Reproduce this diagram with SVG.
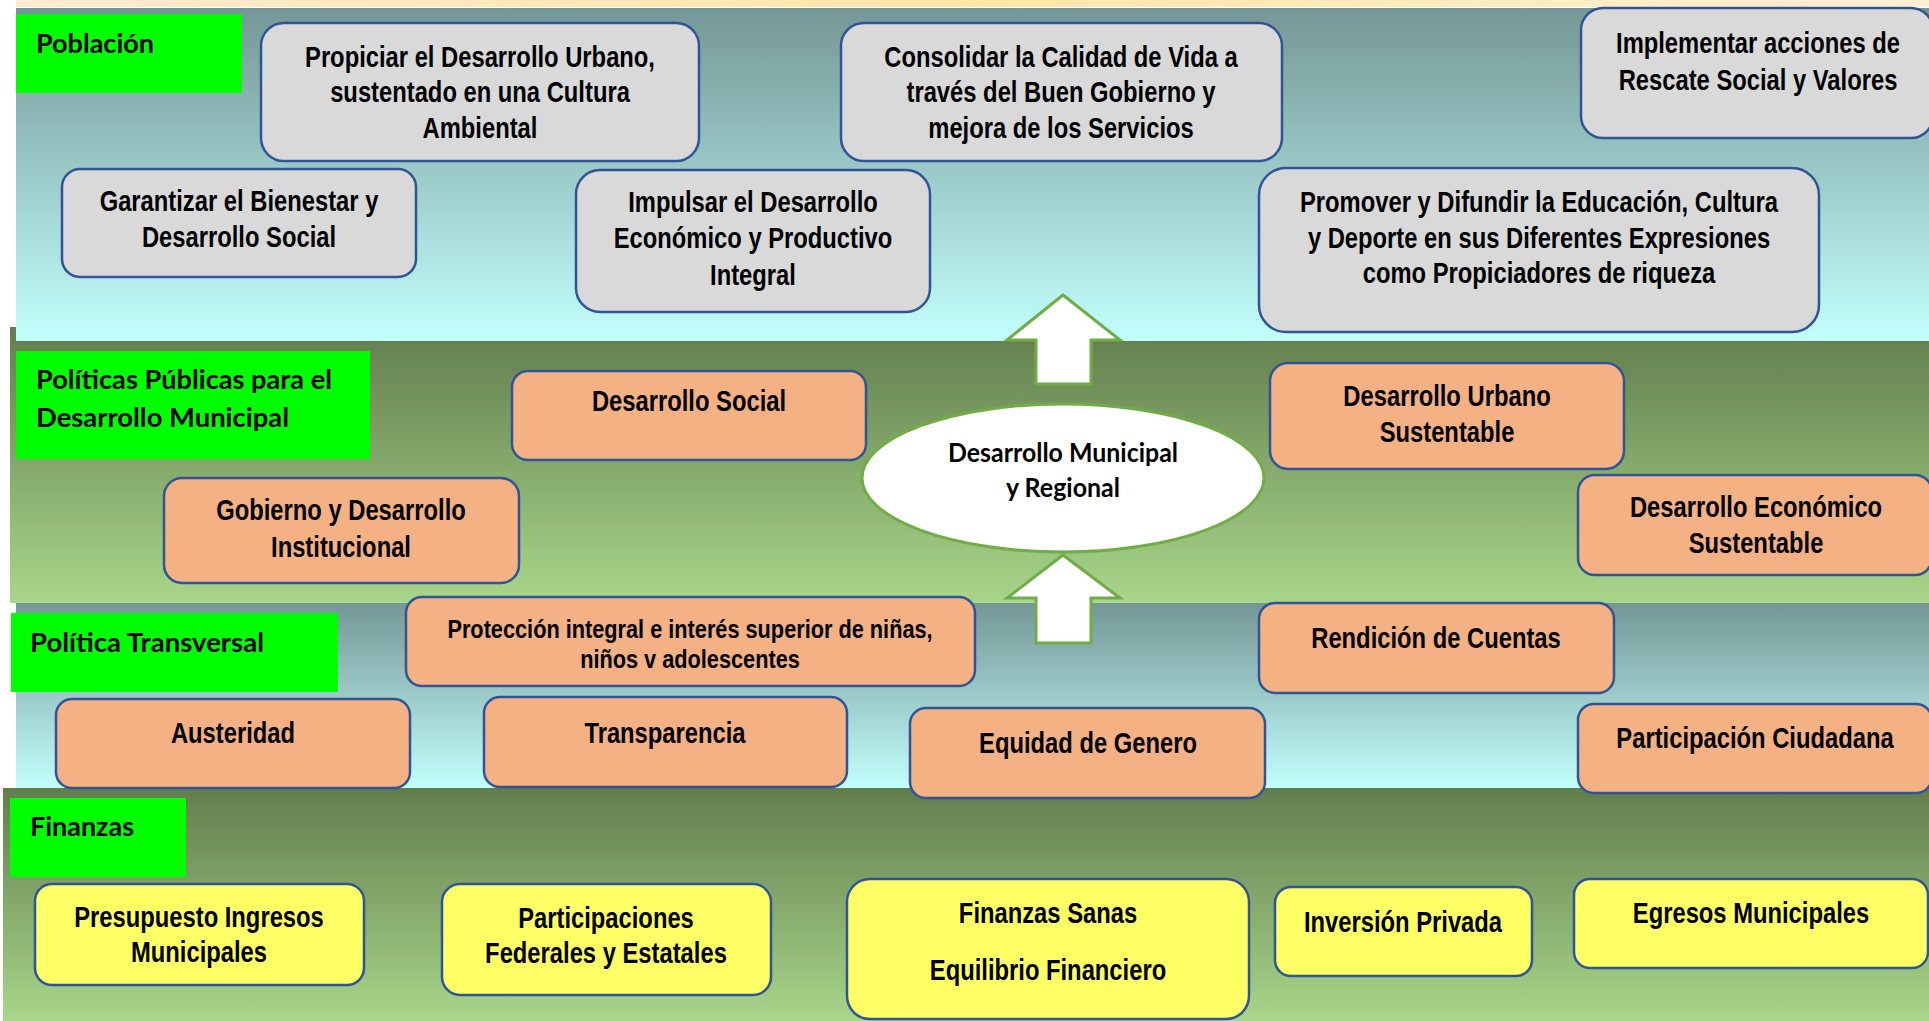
<svg xmlns="http://www.w3.org/2000/svg" width="1929" height="1021" viewBox="0 0 1929 1021">
<defs>
<linearGradient id="gStrip" x1="0" y1="0" x2="1" y2="0"><stop offset="0" stop-color="#fdead0"/><stop offset="0.5" stop-color="#ffe6a8"/><stop offset="1" stop-color="#fff0d6"/></linearGradient>
<linearGradient id="gBlue" x1="0" y1="0" x2="0" y2="1"><stop offset="0" stop-color="#759696"/><stop offset="1" stop-color="#c2fffc"/></linearGradient>
<linearGradient id="gGreen" x1="0" y1="0" x2="0" y2="1"><stop offset="0" stop-color="#627d4d"/><stop offset="1" stop-color="#a8d68a"/></linearGradient>
<style>
.box{stroke:#2f5597;stroke-width:2.5}
.gray{fill:#d9d9d9}
.orange{fill:#f4b183}
.yellow{fill:#ffff66}
.lbl{fill:#00ff00}
.t{font-family:"Liberation Sans",Arial,sans-serif;font-weight:bold;font-size:29px;fill:#000;text-anchor:middle}
.s{font-size:26.5px}
.c{font-family:Lato,"Open Sans",sans-serif;font-weight:bold;font-size:26px;fill:#000}
.arrow{fill:#ffffff;stroke:#70ad47;stroke-width:3;stroke-linejoin:miter}
</style>
</defs>
<g id="background">
<rect x="16" y="0" width="1913" height="7" fill="url(#gStrip)"/>
<rect x="10" y="327" width="1919" height="276" fill="url(#gGreen)"/>
<rect x="16" y="8" width="1913" height="333" fill="url(#gBlue)"/>
<rect x="16" y="603" width="1913" height="185" fill="url(#gBlue)"/>
<rect x="3" y="788" width="1926" height="233" fill="url(#gGreen)"/>
</g>
<g id="labels">
<g id="lbl-poblacion"><rect class="lbl" x="16" y="14" width="226" height="79"/><text class="c" x="36" y="53" textLength="118" lengthAdjust="spacingAndGlyphs">Población</text></g>
<g id="lbl-politicas"><rect class="lbl" x="16" y="351" width="354" height="108"/><text class="c" x="36" y="389" textLength="296" lengthAdjust="spacingAndGlyphs">Políticas Públicas para el</text><text class="c" x="36" y="427" textLength="253" lengthAdjust="spacingAndGlyphs">Desarrollo Municipal</text></g>
<g id="lbl-transversal"><rect class="lbl" x="11" y="613" width="327" height="79"/><text class="c" x="30" y="652" textLength="234" lengthAdjust="spacingAndGlyphs">Política Transversal</text></g>
<g id="lbl-finanzas"><rect class="lbl" x="10" y="798" width="176" height="79"/><text class="c" x="30" y="836" textLength="104" lengthAdjust="spacingAndGlyphs">Finanzas</text></g>
</g>
<g id="connectors">
<path class="arrow" d="M1063,295 L1120,340 L1091,340 L1091,384 L1036,384 L1036,340 L1007,340 Z"/>
<path class="arrow" d="M1063,555 L1120,598 L1091,598 L1091,643 L1036,643 L1036,598 L1007,598 Z"/>
</g>
<g id="n-propiciar"><rect class="box gray" x="261" y="23" width="438" height="138" rx="23"/><g transform="translate(480 0) scale(0.82 1)"><text class="t" x="0" y="67">Propiciar el Desarrollo Urbano,</text><text class="t" x="0" y="102">sustentado en una Cultura</text><text class="t" x="0" y="138">Ambiental</text></g></g>
<g id="n-consolidar"><rect class="box gray" x="841" y="23" width="441" height="138" rx="23"/><g transform="translate(1061 0) scale(0.82 1)"><text class="t" x="0" y="67">Consolidar la Calidad de Vida a</text><text class="t" x="0" y="102">través del Buen Gobierno y</text><text class="t" x="0" y="138">mejora de los Servicios</text></g></g>
<g id="n-implementar"><rect class="box gray" x="1581" y="8" width="352" height="130" rx="22"/><g transform="translate(1758 0) scale(0.82 1)"><text class="t" x="0" y="53">Implementar acciones de</text><text class="t" x="0" y="90">Rescate Social y Valores</text></g></g>
<g id="n-garantizar"><rect class="box gray" x="62" y="169" width="354" height="108" rx="18"/><g transform="translate(239 0) scale(0.82 1)"><text class="t" x="0" y="211">Garantizar el Bienestar y</text><text class="t" x="0" y="247">Desarrollo Social</text></g></g>
<g id="n-impulsar"><rect class="box gray" x="576" y="170" width="354" height="142" rx="24"/><g transform="translate(753 0) scale(0.82 1)"><text class="t" x="0" y="212">Impulsar el Desarrollo</text><text class="t" x="0" y="248">Económico y Productivo</text><text class="t" x="0" y="285">Integral</text></g></g>
<g id="n-promover"><rect class="box gray" x="1259" y="168" width="560" height="164" rx="27"/><g transform="translate(1539 0) scale(0.82 1)"><text class="t" x="0" y="212">Promover y Difundir la Educación, Cultura</text><text class="t" x="0" y="248">y Deporte en sus Diferentes Expresiones</text><text class="t" x="0" y="283">como Propiciadores de riqueza</text></g></g>
<g id="n-social"><rect class="box orange" x="512" y="371" width="354" height="89" rx="16"/><g transform="translate(689 0) scale(0.82 1)"><text class="t" x="0" y="411">Desarrollo Social</text></g></g>
<g id="n-gobierno"><rect class="box orange" x="164" y="478" width="355" height="105" rx="18"/><g transform="translate(341 0) scale(0.82 1)"><text class="t" x="0" y="520">Gobierno y Desarrollo</text><text class="t" x="0" y="557">Institucional</text></g></g>
<g id="n-central"><ellipse cx="1063" cy="478" rx="201" ry="74" fill="#ffffff" stroke="#70ad47" stroke-width="3"/><text class="c" x="1063" y="462" text-anchor="middle" textLength="230" lengthAdjust="spacingAndGlyphs">Desarrollo Municipal</text><text class="c" x="1063" y="497" text-anchor="middle" textLength="114" lengthAdjust="spacingAndGlyphs">y Regional</text></g>
<g id="n-urbano"><rect class="box orange" x="1270" y="363" width="354" height="106" rx="18"/><g transform="translate(1447 0) scale(0.82 1)"><text class="t" x="0" y="406">Desarrollo Urbano</text><text class="t" x="0" y="442">Sustentable</text></g></g>
<g id="n-economico"><rect class="box orange" x="1578" y="475" width="354" height="100" rx="17"/><g transform="translate(1756 0) scale(0.82 1)"><text class="t" x="0" y="517">Desarrollo Económico</text><text class="t" x="0" y="553">Sustentable</text></g></g>
<g id="n-proteccion"><rect class="box orange" x="406" y="597" width="569" height="89" rx="16"/><g transform="translate(690 0) scale(0.82 1)"><text class="t s" x="0" y="638">Protección integral e interés superior de niñas,</text><text class="t s" x="0" y="668">niños v adolescentes</text></g></g>
<g id="n-rendicion"><rect class="box orange" x="1259" y="603" width="355" height="90" rx="16"/><g transform="translate(1436 0) scale(0.82 1)"><text class="t" x="0" y="648">Rendición de Cuentas</text></g></g>
<g id="n-austeridad"><rect class="box orange" x="56" y="699" width="354" height="89" rx="16"/><g transform="translate(233 0) scale(0.82 1)"><text class="t" x="0" y="743">Austeridad</text></g></g>
<g id="n-transparencia"><rect class="box orange" x="484" y="697" width="363" height="90" rx="16"/><g transform="translate(665 0) scale(0.82 1)"><text class="t" x="0" y="743">Transparencia</text></g></g>
<g id="n-equidad"><rect class="box orange" x="910" y="708" width="355" height="90" rx="16"/><g transform="translate(1088 0) scale(0.82 1)"><text class="t" x="0" y="753">Equidad de Genero</text></g></g>
<g id="n-participacion"><rect class="box orange" x="1578" y="704" width="354" height="89" rx="16"/><g transform="translate(1755 0) scale(0.82 1)"><text class="t" x="0" y="748">Participación Ciudadana</text></g></g>
<g id="n-presupuesto"><rect class="box yellow" x="35" y="884" width="329" height="101" rx="17"/><g transform="translate(199 0) scale(0.82 1)"><text class="t" x="0" y="927">Presupuesto Ingresos</text><text class="t" x="0" y="962">Municipales</text></g></g>
<g id="n-participaciones"><rect class="box yellow" x="442" y="884" width="329" height="111" rx="18"/><g transform="translate(606 0) scale(0.82 1)"><text class="t" x="0" y="928">Participaciones</text><text class="t" x="0" y="963">Federales y Estatales</text></g></g>
<g id="n-finanzas"><rect class="box yellow" x="847" y="879" width="402" height="140" rx="23"/><g transform="translate(1048 0) scale(0.82 1)"><text class="t" x="0" y="923">Finanzas Sanas</text><text class="t" x="0" y="980">Equilibrio Financiero</text></g></g>
<g id="n-inversion"><rect class="box yellow" x="1275" y="887" width="257" height="89" rx="16"/><g transform="translate(1403 0) scale(0.82 1)"><text class="t" x="0" y="932">Inversión Privada</text></g></g>
<g id="n-egresos"><rect class="box yellow" x="1574" y="879" width="354" height="89" rx="16"/><g transform="translate(1751 0) scale(0.82 1)"><text class="t" x="0" y="923">Egresos Municipales</text></g></g>
</svg>
